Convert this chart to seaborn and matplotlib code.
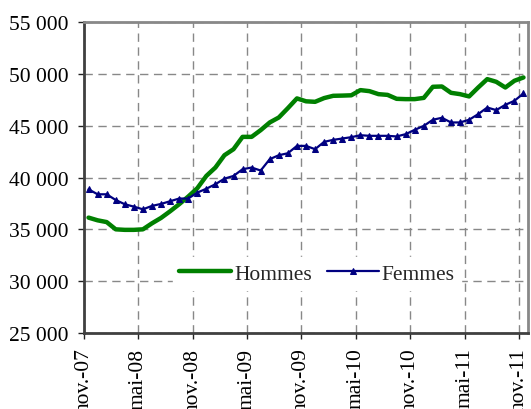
import matplotlib
matplotlib.use("Agg")
import matplotlib.pyplot as plt
import seaborn as sns
import numpy as np
import pandas as pd

hommes = [36130, 35870, 35700, 35000, 34950, 34950, 35000, 35580, 36100, 36740,
          37420, 38160, 38960, 40150, 40960, 42150, 42730, 43920, 43920, 44570,
          45310, 45790, 46690, 47630, 47350, 47300, 47660, 47880, 47900, 47930,
          48430, 48330, 48040, 47970, 47590, 47560, 47560, 47680, 48750, 48780,
          48170, 48040, 47820, 48680, 49490, 49230, 48680, 49330, 49650]
femmes = [38860, 38380, 38380, 37830, 37420, 37190, 36930, 37260, 37450, 37710,
          37970, 37970, 38540, 38920, 39350, 39890, 40150, 40800, 40960, 40670,
          41770, 42150, 42340, 43050, 43050, 42730, 43440, 43630, 43760, 43890,
          44080, 44020, 44020, 44020, 43960, 44180, 44600, 44980, 45570, 45760,
          45310, 45310, 45570, 46110, 46750, 46500, 47010, 47400, 48110]
tick_labels = ["nov.-07", "mai-08", "nov.-08", "mai-09", "nov.-09",
               "mai-10", "nov.-10", "mai-11", "nov.-11"]
y_ticks = [25000, 30000, 35000, 40000, 45000, 50000, 55000]
y_labels = ["25 000", "30 000", "35 000", "40 000", "45 000", "50 000", "55 000"]

sns.set_theme(style="white")
plt.rcParams['font.family'] = ['Liberation Serif', 'DejaVu Serif']

n = len(hommes)
x = np.arange(n) + 0.5
df = pd.DataFrame({"x": np.concatenate([x, x]),
                   "val": hommes + femmes,
                   "serie": ["Hommes"] * n + ["Femmes"] * n})

fig = plt.figure(figsize=(5.31, 4.10), dpi=100)
ax = fig.add_axes([84/531, 1 - 334/410, (528-84)/531, (334-23)/410])

sns.lineplot(data=df[df.serie == "Hommes"], x="x", y="val", ax=ax,
             color="#008000", linewidth=3.2, label="Hommes")
sns.lineplot(data=df[df.serie == "Femmes"], x="x", y="val", ax=ax,
             color="#000080", linewidth=1.6, marker="^", markersize=5,
             markeredgecolor="#000080", label="Femmes")

ax.set_xlim(0, n)
ax.set_ylim(25000, 55000)
ax.set_xticks(np.arange(0, n, 6))
ax.set_xticklabels(tick_labels, rotation=90, fontsize=15.5)
ax.set_yticks(y_ticks)
ax.set_yticklabels(y_labels, fontsize=15.5)
ax.set_xlabel("")
ax.set_ylabel("")

ax.grid(True, color="#888888", linestyle=(0, (6, 4)), linewidth=1)
ax.set_axisbelow(True)
ax.tick_params(axis="both", which="both", direction="out", length=4.5, width=1,
               color="#222222", colors="black")
ax.tick_params(axis="x", bottom=True, pad=6)
ax.tick_params(axis="y", left=True, pad=6.5)
for side in ["left", "bottom"]:
    ax.spines[side].set_color("#404040")
    ax.spines[side].set_linewidth(2)
for side in ["top", "right"]:
    ax.spines[side].set_color("#888888")
    ax.spines[side].set_linewidth(2)

leg = ax.legend(loc="center", bbox_to_anchor=(0.525, 0.19), ncol=2,
                frameon=True, fontsize=15.5, handlelength=2.4, columnspacing=0.7,
                handletextpad=0.15, borderpad=0.3, fancybox=False)
leg.get_frame().set_edgecolor("white")
leg.get_frame().set_facecolor("white")
leg.get_frame().set_alpha(1)

fig.savefig("out.png", dpi=100)
